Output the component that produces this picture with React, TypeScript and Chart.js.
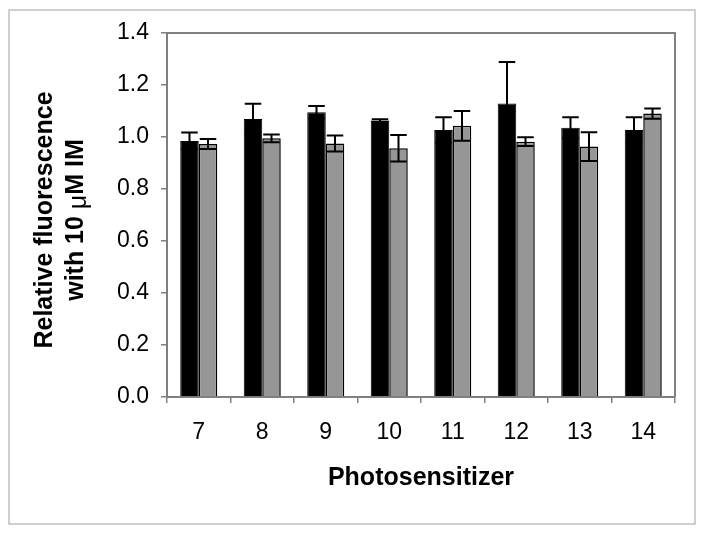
import React, { useEffect, useRef } from "react";
import { Chart, registerables } from "chart.js";

Chart.register(...registerables);

const categories = ["7", "8", "9", "10", "11", "12", "13", "14"];
const blackValues = [0.985, 1.069, 1.095, 1.063, 1.027, 1.129, 1.036, 1.027];
const blackErrors = [0.032, 0.059, 0.024, 0.005, 0.049, 0.159, 0.04, 0.049];
const grayValues = [0.973, 0.995, 0.975, 0.957, 1.043, 0.982, 0.963, 1.09];
const grayErrors = [0.019, 0.015, 0.031, 0.051, 0.057, 0.017, 0.055, 0.02];
const yTitleLine1 = "Relative fluorescence";
const yTitleLine2 = ["with 10 ", "\u03bc", "M IM"];
const xTitle = "Photosensitizer";

const FONT = "Arial, 'Liberation Sans', sans-serif";
const AXIS_GRAY = "#808080";

const errorBarPlugin = {
  id: "errorBars",
  afterDatasetsDraw(chart: any) {
    const ctx = chart.ctx;
    const yScale = chart.scales.y;
    const errs = [blackErrors, grayErrors];
    chart.data.datasets.forEach((ds: any, di: number) => {
      const meta = chart.getDatasetMeta(di);
      meta.data.forEach((bar: any, i: number) => {
        const v = ds.data[i];
        const e = errs[di][i];
        const x = bar.x;
        const hw = bar.width / 2 - 1;
        const yt = yScale.getPixelForValue(v + e);
        const yb = yScale.getPixelForValue(v - e);
        ctx.save();
        ctx.strokeStyle = "#000";
        ctx.lineWidth = 2;
        ctx.beginPath();
        ctx.moveTo(x, yb);
        ctx.lineTo(x, yt);
        ctx.moveTo(x - hw, yt);
        ctx.lineTo(x + hw, yt);
        ctx.moveTo(x - hw, yb);
        ctx.lineTo(x + hw, yb);
        ctx.stroke();
        ctx.restore();
      });
    });
  },
};

const framePlugin = {
  id: "frame",
  beforeDraw(chart: any) {
    const ctx = chart.ctx;
    ctx.save();
    ctx.fillStyle = "#fff";
    ctx.fillRect(0, 0, chart.width, chart.height);
    ctx.strokeStyle = "#c0c0c0";
    ctx.lineWidth = 1.5;
    ctx.strokeRect(9, 10, chart.width - 18, chart.height - 21);
    ctx.restore();
  },
  beforeDatasetsDraw(chart: any) {
    const { ctx, chartArea } = chart;
    ctx.save();
    ctx.strokeStyle = AXIS_GRAY;
    ctx.lineWidth = 2;
    ctx.beginPath();
    ctx.moveTo(chartArea.left, chartArea.top);
    ctx.lineTo(chartArea.right, chartArea.top);
    ctx.lineTo(chartArea.right, chartArea.bottom);
    ctx.stroke();
    ctx.restore();
  },
  afterDraw(chart: any) {
    const { ctx, chartArea } = chart;
    const cy = (chartArea.top + chartArea.bottom) / 2 + 5;
    ctx.save();
    ctx.fillStyle = "#000";
    ctx.textBaseline = "alphabetic";
    ctx.save();
    ctx.translate(chartArea.left - 115, cy);
    ctx.rotate(-Math.PI / 2);
    ctx.font = `bold 25px ${FONT}`;
    ctx.textAlign = "center";
    ctx.fillText(yTitleLine1, 0, 0);
    ctx.restore();
    ctx.save();
    ctx.translate(chartArea.left - 84, cy);
    ctx.rotate(-Math.PI / 2);
    ctx.textAlign = "left";
    const fonts = [`bold 25px ${FONT}`, `25px ${FONT}`, `bold 25px ${FONT}`];
    let total = 0;
    const widths = yTitleLine2.map((s, k) => {
      ctx.font = fonts[k];
      const w = ctx.measureText(s).width;
      total += w;
      return w;
    });
    let xx = -total / 2;
    yTitleLine2.forEach((s, k) => {
      ctx.font = fonts[k];
      ctx.fillText(s, xx, k === 1 ? 3 : 0);
      xx += widths[k];
    });
    ctx.restore();
    ctx.restore();
  },
};

export default function App() {
  const canvasRef = useRef<HTMLCanvasElement | null>(null);

  useEffect(() => {
    if (!canvasRef.current) return;
    const chart = new Chart(canvasRef.current, {
      type: "bar",
      data: {
        labels: categories,
        datasets: [
          {
            label: "A",
            data: blackValues,
            backgroundColor: "#000000",
            borderColor: "#000000",
            borderWidth: 1,
            categoryPercentage: 0.583,
            barPercentage: 1.0,
          },
          {
            label: "B",
            data: grayValues,
            backgroundColor: "#969696",
            borderColor: "#000000",
            borderWidth: 1.5,
            categoryPercentage: 0.583,
            barPercentage: 1.0,
          },
        ],
      },
      options: {
        responsive: false,
        animation: false,
        layout: { padding: { left: 0, right: 29, top: 33, bottom: 0 } },
        plugins: {
          legend: { display: false },
          tooltip: { enabled: false },
        },
        scales: {
          x: {
            grid: {
              drawOnChartArea: false,
              drawTicks: true,
              tickLength: 6,
              color: AXIS_GRAY,
              lineWidth: 1.5,
            },
            border: { display: true, color: AXIS_GRAY, width: 2 },
            ticks: {
              color: "#000",
              font: { size: 23, family: FONT },
              padding: 16,
              maxRotation: 0,
            },
            title: {
              display: true,
              text: xTitle,
              color: "#000",
              font: { size: 25, family: FONT, weight: "bold" },
              padding: { top: 0, bottom: 42 },
            },
            afterFit(scale: any) {
              scale.height = 138;
            },
          },
          y: {
            min: 0,
            max: 1.4,
            grid: {
              drawOnChartArea: false,
              drawTicks: true,
              tickLength: 6,
              color: AXIS_GRAY,
              lineWidth: 1.5,
            },
            border: { display: true, color: AXIS_GRAY, width: 2 },
            ticks: {
              stepSize: 0.2,
              color: "#000",
              font: { size: 23, family: FONT },
              padding: 12,
              callback: (v: any) => Number(v).toFixed(1),
            },
            afterFit(scale: any) {
              scale.width = 167;
            },
          },
        },
      },
      plugins: [errorBarPlugin, framePlugin],
    } as any);
    return () => chart.destroy();
  }, []);

  return (
    <div
      style={{
        position: "fixed",
        left: 0,
        top: 0,
        width: 704,
        height: 535,
        background: "#fff",
      }}
    >
      <canvas ref={canvasRef} width={704} height={535} style={{ display: "block" }} />
    </div>
  );
}
